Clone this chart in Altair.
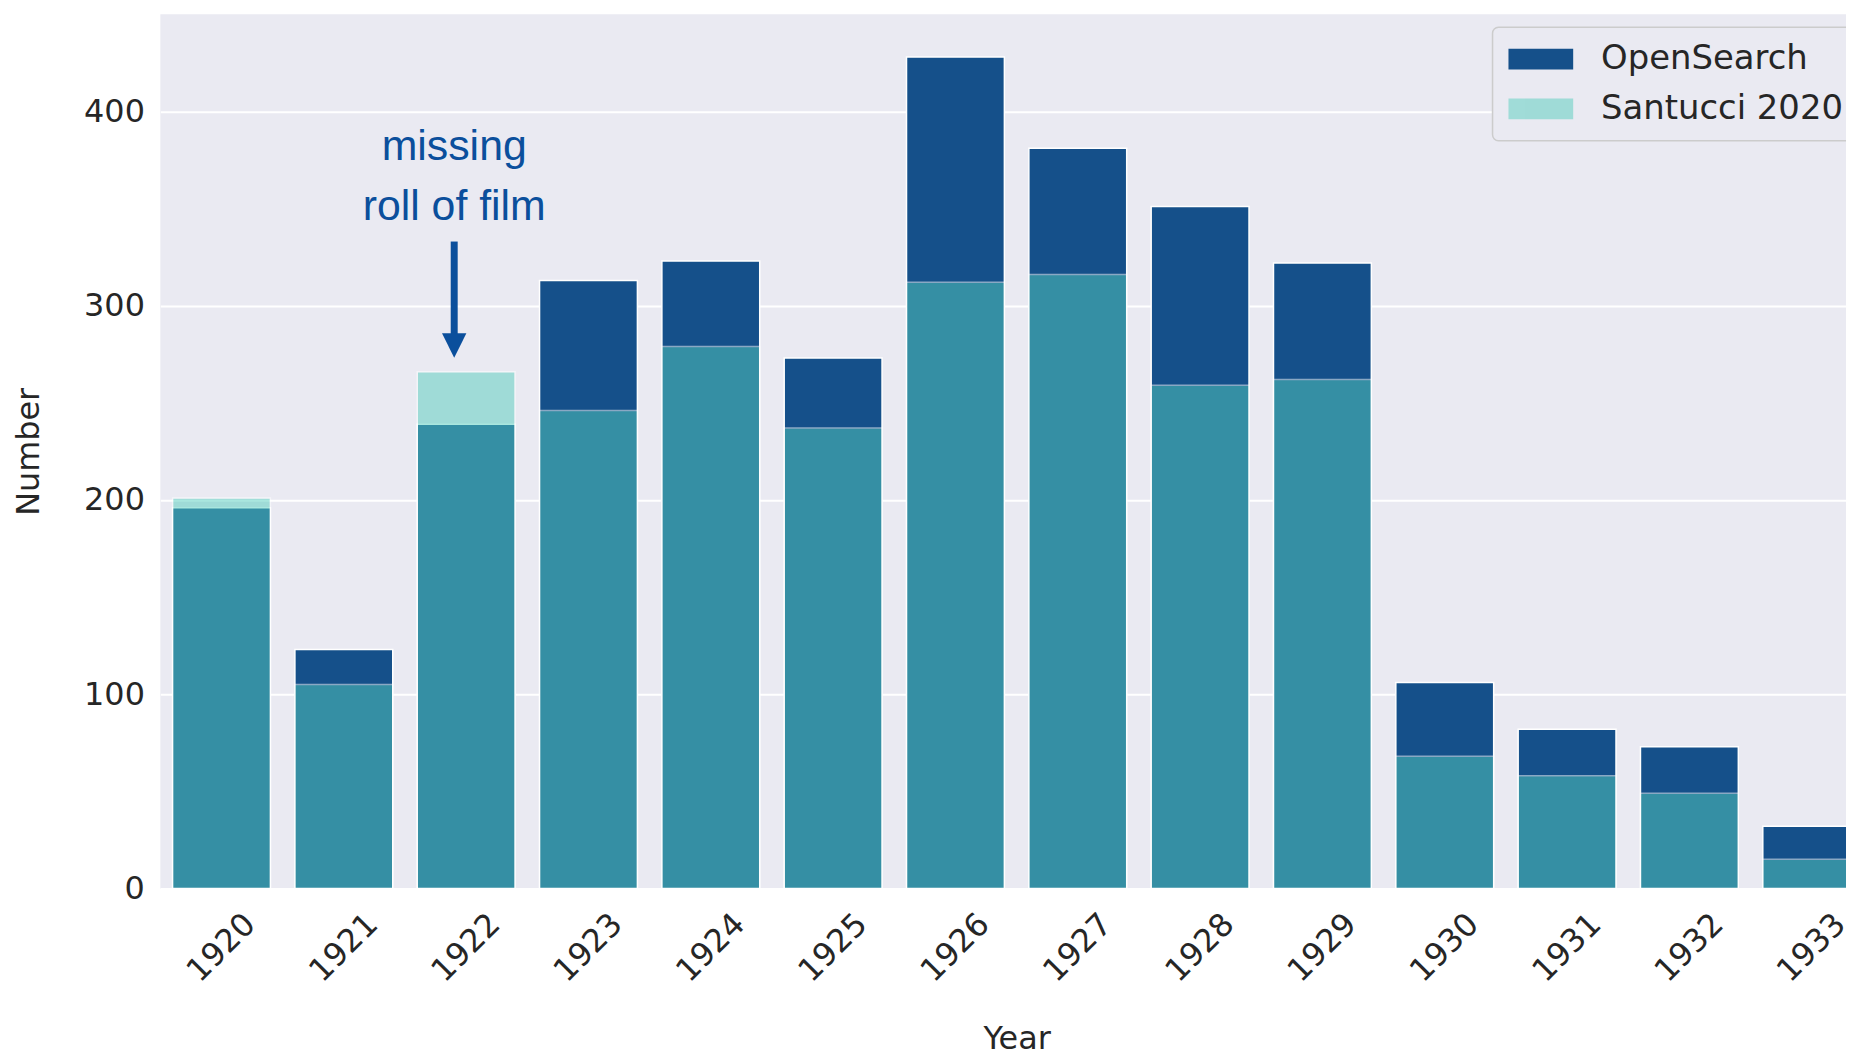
import altair as alt
import pandas as pd

# ---- data ----
years = ["1920", "1921", "1922", "1923", "1924", "1925", "1926",
         "1927", "1928", "1929", "1930", "1931", "1932", "1933"]
opensearch = [196, 123, 239, 313, 323, 273, 428, 381, 351, 322, 106, 82, 73, 32]
santucci = [201, 105, 266, 246, 279, 237, 312, 316, 259, 262, 68, 58, 49, 15]
sources = ["OpenSearch", "Santucci 2020"]

note_lines = ["missing", "roll of film"]
note_values = [375, 344]
note_year = "1922"
arrow_top = 333
arrow_base = 284
arrow_head = 279.5

rows = []
for i, y in enumerate(years):
    rows.append({"Year": y, "Number": opensearch[i], "Source": sources[0], "draw": 0})
for i, y in enumerate(years):
    rows.append({"Year": y, "Number": santucci[i], "Source": sources[1], "draw": 1})
df = pd.DataFrame(rows)

notes = pd.DataFrame({"Year": [note_year] * len(note_lines),
                      "label": note_lines, "Number": note_values})
arrow = pd.DataFrame({"Year": [note_year], "top": [arrow_top], "base": [arrow_base],
                      "head": [arrow_head]})

TXT = "#262626"
NOTE = "#0b4f9c"

xscale = alt.Scale(domain=years, range=[0, 1720], paddingInner=0.2, paddingOuter=0.1)
yscale = alt.Scale(domain=[0, 450], nice=False)

xaxis = alt.Axis(title="Year", labelAngle=315, labelAlign="center", labelBaseline="middle",
                 labelPadding=59, labelFontSize=32, labelColor=TXT, labelOverlap=False,
                 domain=False, ticks=False, grid=False,
                 titleFontSize=32, titleColor=TXT, titleFontWeight="normal",
                 titleX=860, titleY=161, titleBaseline="alphabetic", titleAlign="center")
yaxis = alt.Axis(title="Number", values=[0, 100, 200, 300, 400], labelFontSize=32,
                 labelColor=TXT, labelPadding=16, domain=False, ticks=False,
                 grid=True, gridColor="white", gridWidth=2,
                 titleFontSize=32, titleColor=TXT, titleFontWeight="normal",
                 titleX=-122, titleY=439, titleAngle=270, titleBaseline="alphabetic",
                 titleAlign="center")

bars = alt.Chart(df).mark_bar(stroke="white", strokeWidth=1.5).encode(
    x=alt.X("Year:N", scale=xscale, axis=xaxis),
    y=alt.Y("Number:Q", stack=None, scale=yscale, axis=yaxis),
    color=alt.Color("Source:N", scale=alt.Scale(domain=sources, range=["#15508a", "#56cebe"]),
                    legend=alt.Legend(title=None)),
    opacity=alt.Opacity("Source:N", scale=alt.Scale(domain=sources, range=[1.0, 0.5]),
                        legend=alt.Legend(title=None)),
    order=alt.Order("draw:Q"),
)

text = alt.Chart(notes).mark_text(font="Liberation Sans", fontSize=43, color=NOTE,
                                  align="center", baseline="alphabetic", xOffset=-12).encode(
    x=alt.X("Year:N", scale=xscale),
    y=alt.Y("Number:Q", scale=yscale),
    text="label:N",
)

shaft = alt.Chart(arrow).mark_rule(color=NOTE, strokeWidth=7, xOffset=-12).encode(
    x=alt.X("Year:N", scale=xscale),
    y=alt.Y("top:Q", scale=yscale),
    y2="base:Q",
)

head = alt.Chart(arrow).mark_point(shape="M-1,-1L1,-1L0,1Z", filled=True, fill=NOTE,
                                   color=NOTE, opacity=1, size=600, strokeWidth=0,
                                   xOffset=-12).encode(
    x=alt.X("Year:N", scale=xscale),
    y=alt.Y("head:Q", scale=yscale),
)

chart = alt.layer(bars, text, shaft, head).properties(
    width=1693, height=878,
    autosize=alt.AutoSizeParams(type="none"),
    padding={"left": 153, "top": 4, "right": 0, "bottom": 166},
).configure(font="DejaVu Sans").configure_view(
    fill="#eaeaf2", strokeWidth=0
).configure_legend(
    orient="none", legendX=1338, legendY=13, padding=15,
    fillColor="#eaeaf2", strokeColor="#cccccc", strokeWidth=1.5, cornerRadius=6,
    labelFontSize=34, labelFont="DejaVu Sans", labelColor=TXT, labelLimit=500,
    symbolType="M-1,-0.32H1V0.32H-1Z", symbolSize=4225, labelOffset=27,
    rowPadding=16, clipHeight=34, symbolStrokeColor="white", symbolStrokeWidth=1.5,
)

chart.save("out.html", embed_options={"renderer": "svg", "actions": False})
